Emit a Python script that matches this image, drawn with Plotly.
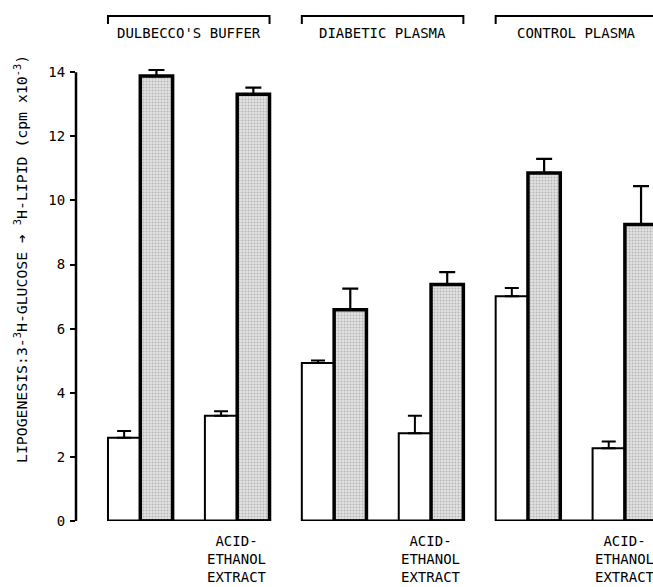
import plotly.graph_objects as go

# ---------------- data ----------------
groups = ["DULBECCO'S BUFFER", "DIABETIC PLASMA", "CONTROL PLASMA"]
white_vals = [2.6, 3.28, 4.93, 2.74, 7.01, 2.27]
white_err = [0.21, 0.14, 0.08, 0.54, 0.26, 0.21]
gray_vals = [13.88, 13.31, 6.59, 7.375, 10.86, 9.25]
gray_err = [0.19, 0.21, 0.66, 0.39, 0.44, 1.20]
extract_label = "ACID-<br>ETHANOL<br>EXTRACT"
y_ticks = [0, 2, 4, 6, 8, 10, 12, 14]
y_title = "LIPOGENESIS:3-<sup>3</sup>H-GLUCOSE \u2794 <sup>3</sup>H-LIPID (cpm x10<sup>-3</sup>)"

# ---------------- layout helpers ----------------
W, H = 653, 587
ML, MR, MT, MB = 76, 0, 53, 66
plot_h = H - MT - MB
X_RANGE = [-0.99, 16.87]
Y_RANGE = [0, 14.6]
FONT = "DejaVu Sans Mono"


def ypaper(px):
    return (H - MB - px) / plot_h


n_pairs = len(white_vals)
white_x = [3 * i + 0.5 for i in range(n_pairs)]
gray_x = [3 * i + 1.5 for i in range(n_pairs)]

fig = go.Figure()
fig.add_trace(go.Bar(
    x=white_x, y=white_vals, width=1,
    marker=dict(color="white", line=dict(color="black", width=2)),
    error_y=dict(type="data", symmetric=False, array=white_err,
                 arrayminus=[0] * n_pairs, color="black", thickness=2, width=7),
    showlegend=False,
))
fig.add_trace(go.Bar(
    x=gray_x, y=gray_vals, width=1,
    marker=dict(color="#d4d4d4", line=dict(color="black", width=3.5),
                pattern=dict(shape=".", fgcolor="#8a8a8a", bgcolor="#e2e2e2",
                             size=3, solidity=0.35)),
    error_y=dict(type="data", symmetric=False, array=gray_err,
                 arrayminus=[0] * n_pairs, color="black", thickness=2.2, width=8),
    showlegend=False,
))

shapes = []
annotations = []
for p, name in enumerate(groups):
    x0 = 6 * p
    x1 = 6 * p + 5
    # baseline
    shapes.append(dict(type="line", xref="x", yref="y", x0=x0, x1=x1, y0=0, y1=0,
                       line=dict(color="black", width=3)))
    # bracket
    yt = ypaper(16)
    yb = ypaper(24)
    shapes.append(dict(type="path", xref="x", yref="paper",
                       path=f"M {x0},{yb} L {x0},{yt} L {x1},{yt} L {x1},{yb}",
                       line=dict(color="black", width=2)))
    annotations.append(dict(x=(x0 + x1) / 2, y=ypaper(33), xref="x", yref="paper",
                            text=name, showarrow=False, xanchor="center", yanchor="middle",
                            font=dict(family=FONT, size=14, color="black")))
    annotations.append(dict(x=6 * p + 4, y=ypaper(531), xref="x", yref="paper",
                            text=extract_label, showarrow=False, xanchor="center",
                            yanchor="top", align="center",
                            font=dict(family=FONT, size=14, color="black")))

# y axis line
shapes.append(dict(type="line", xref="paper", yref="y", x0=0, x1=0, y0=y_ticks[0], y1=y_ticks[-1],
                   line=dict(color="black", width=2.5)))

annotations.append(dict(x=(20 - ML) / (W - ML - MR), y=ypaper(259), xref="paper", yref="paper",
                        text=y_title, textangle=-90, showarrow=False,
                        xanchor="center", yanchor="middle",
                        font=dict(family=FONT, size=14.8, color="black")))

fig.update_layout(
    width=W, height=H,
    margin=dict(l=ML, r=MR, t=MT, b=MB),
    paper_bgcolor="white", plot_bgcolor="white",
    barmode="overlay",
    shapes=shapes, annotations=annotations,
    xaxis=dict(range=X_RANGE, showgrid=False, zeroline=False, showline=False,
               showticklabels=False, ticks=""),
    yaxis=dict(range=Y_RANGE, showgrid=False, zeroline=False, showline=False,
               tickvals=y_ticks, ticks="outside", ticklen=5, tickwidth=2,
               tickcolor="black", ticklabelstandoff=2,
               tickfont=dict(family=FONT, size=14, color="black")),
)

fig.write_html(
    "out.html",
    config={"displayModeBar": False},
    post_script="document.body.style.margin='0';document.body.style.overflow='hidden';",
)
